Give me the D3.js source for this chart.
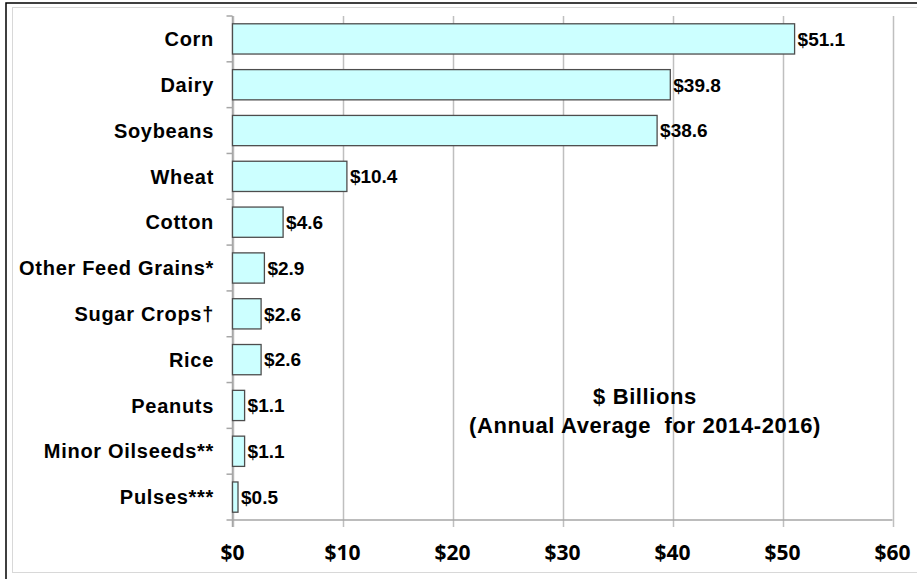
<!DOCTYPE html>
<html>
<head>
<meta charset="utf-8">
<script src="https://cdn.jsdelivr.net/npm/d3@7"></script>
<style>
  body { margin: 0; background: #fff; }
  .cat, .val, .note { font-family: "Liberation Sans", Arial, sans-serif; font-weight: bold; fill: #000; }
  .tick-lbl { font-family: "Open Sans", "Liberation Sans", sans-serif; font-weight: bold; fill: #000; }
</style>
</head>
<body>
<svg id="chart"></svg>
<script>
const width = 917;
const height = 579;

const categories = ["Corn", "Dairy", "Soybeans", "Wheat", "Cotton", "Other Feed Grains*",
    "Sugar Crops\u2020", "Rice", "Peanuts", "Minor Oilseeds**", "Pulses***"];
const values = [51.1, 39.8, 38.6, 10.4, 4.6, 2.9, 2.6, 2.6, 1.1, 1.1, 0.5];
const ticks = [0, 10, 20, 30, 40, 50, 60];
const noteLines = ["$ Billions", "(Annual Average  for 2014-2016)"];

const plot = { left: 232.5, right: 892.5, top: 16, bottom: 520 };

const svg = d3.select("#chart")
    .attr("width", width)
    .attr("height", height);

// outer frame
svg.append("rect")
    .attr("x", 6).attr("y", 3)
    .attr("width", 930).attr("height", 600)
    .attr("fill", "none").attr("stroke", "#000").attr("stroke-width", 1.5);
svg.append("rect")
    .attr("x", 12.5).attr("y", 7.5)
    .attr("width", 920).attr("height", 565)
    .attr("fill", "none").attr("stroke", "#d8d8d8").attr("stroke-width", 1);

const x = d3.scaleLinear().domain([0, 60]).range([plot.left, plot.right]);
const y = d3.scaleBand().domain(categories).range([plot.top, plot.bottom]).paddingInner(0.34).paddingOuter(0.17);

// gridlines
svg.append("g")
    .selectAll("line")
    .data(ticks)
    .enter()
    .append("line")
    .attr("x1", d => Math.round(x(d)) + 0.5)
    .attr("x2", d => Math.round(x(d)) + 0.5)
    .attr("y1", plot.top)
    .attr("y2", plot.bottom + 7)
    .attr("stroke", "#bfbfbf")
    .attr("stroke-width", 1.5);

// x axis line
svg.append("line")
    .attr("x1", plot.left).attr("x2", plot.right)
    .attr("y1", plot.bottom).attr("y2", plot.bottom)
    .attr("stroke", "#a6a6a6").attr("stroke-width", 1.5);

// y axis line and ticks at band boundaries
svg.append("line")
    .attr("x1", plot.left).attr("x2", plot.left)
    .attr("y1", plot.top).attr("y2", plot.bottom + 7)
    .attr("stroke", "#a6a6a6").attr("stroke-width", 1.5);

const step = y.step();
const bounds = d3.range(categories.length + 1).map(i => plot.top + i * step);
svg.append("g")
    .selectAll("line")
    .data(bounds)
    .enter()
    .append("line")
    .attr("x1", plot.left - 6).attr("x2", plot.left)
    .attr("y1", d => d).attr("y2", d => d)
    .attr("stroke", "#a6a6a6").attr("stroke-width", 1.5);

// bars
svg.append("g")
    .selectAll("rect")
    .data(categories)
    .enter()
    .append("rect")
    .attr("x", x(0))
    .attr("y", d => y(d))
    .attr("width", (d, i) => x(values[i]) - x(0))
    .attr("height", y.bandwidth())
    .attr("fill", "#ccffff")
    .attr("stroke", "#4d4d4d")
    .attr("stroke-width", 1.3);

// value labels
svg.append("g")
    .selectAll("text")
    .data(categories)
    .enter()
    .append("text")
    .attr("class", "val")
    .attr("x", (d, i) => x(values[i]) + 3)
    .attr("y", d => y(d) + y.bandwidth() / 2)
    .attr("dy", "0.36em")
    .style("font-size", "19px")
    .text((d, i) => "$" + values[i].toFixed(1));

// category labels
svg.append("g")
    .selectAll("text")
    .data(categories)
    .enter()
    .append("text")
    .attr("class", "cat")
    .attr("x", 214)
    .attr("y", d => y(d) + y.bandwidth() / 2)
    .attr("dy", "0.36em")
    .attr("text-anchor", "end")
    .style("font-size", "20px")
    .style("letter-spacing", "0.7px")
    .text(d => d);

// x tick labels
svg.append("g")
    .selectAll("text")
    .data(ticks)
    .enter()
    .append("text")
    .attr("class", "tick-lbl")
    .attr("x", d => x(d))
    .attr("y", 552)
    .attr("dy", "0.36em")
    .attr("text-anchor", "middle")
    .style("font-size", "21px")
    .text(d => "$" + d);

// note
svg.append("g")
    .selectAll("text")
    .data(noteLines)
    .enter()
    .append("text")
    .attr("class", "note")
    .attr("x", 645)
    .attr("y", (d, i) => 396 + i * 29)
    .attr("dy", "0.36em")
    .attr("text-anchor", "middle")
    .style("font-size", "22px")
    .style("letter-spacing", "0.6px")
    .style("white-space", "pre")
    .text(d => d);
</script>
</body>
</html>
